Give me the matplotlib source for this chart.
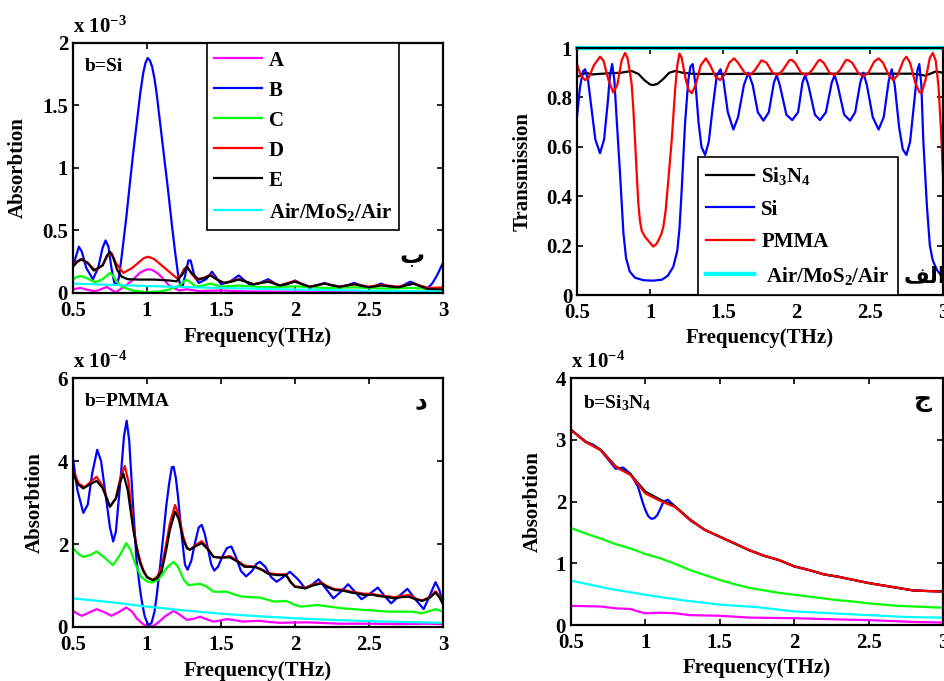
import matplotlib
matplotlib.use("Agg")
import matplotlib.pyplot as plt
from matplotlib.ticker import FormatStrFormatter

plt.rcParams['font.family'] = ['Liberation Serif', 'DejaVu Sans']
plt.rcParams['font.weight'] = 'bold'
plt.rcParams['mathtext.fontset'] = 'custom'
plt.rcParams['mathtext.rm'] = 'Liberation Serif:bold'
plt.rcParams['mathtext.it'] = 'Liberation Serif:bold'
plt.rcParams['mathtext.bf'] = 'Liberation Serif:bold'
plt.rcParams['mathtext.default'] = 'rm'

# ---------------- b = Si  (absorption, x 1e-3) ----------------
si_A_x = [0.5, 0.55, 0.6, 0.65, 0.7, 0.73, 0.76, 0.79, 0.82, 0.85, 0.9, 0.95, 0.99, 1.02, 1.05, 1.08, 1.12, 1.15,
          1.19, 1.22, 1.27, 1.35, 1.5, 1.7, 2.0, 2.5, 3.0]
si_A_y = [0.03, 0.04, 0.025, 0.013, 0.035, 0.048, 0.025, 0.005, 0.03, 0.053, 0.1, 0.16, 0.185, 0.19, 0.175, 0.15,
          0.1, 0.06, 0.035, 0.02, 0.03, 0.015, 0.02, 0.012, 0.01, 0.008, 0.008]

si_B_x = [0.5, 0.525, 0.54, 0.56, 0.59, 0.635, 0.67, 0.7, 0.72, 0.74, 0.76, 0.78, 0.795, 0.81, 0.83, 0.86, 0.885,
          0.91, 0.935, 0.955, 0.975, 0.99, 1.005, 1.02, 1.035, 1.05, 1.065, 1.08, 1.11, 1.14, 1.17, 1.19, 1.21,
          1.225, 1.24, 1.26, 1.28, 1.295, 1.32, 1.35, 1.4, 1.44, 1.47, 1.5, 1.56, 1.62, 1.66, 1.7, 1.76, 1.82,
          1.86, 1.9, 1.95, 2.0, 2.05, 2.1, 2.15, 2.2, 2.25, 2.3, 2.35, 2.4, 2.45, 2.49, 2.54, 2.58, 2.63, 2.68,
          2.73, 2.78, 2.82, 2.86, 2.9, 2.93, 2.96, 3.0]
si_B_y = [0.21, 0.31, 0.37, 0.33, 0.2, 0.11, 0.2, 0.36, 0.42, 0.37, 0.2, 0.08, 0.064, 0.12, 0.3, 0.6, 0.88, 1.15,
          1.4, 1.6, 1.76, 1.84, 1.88, 1.86, 1.81, 1.72, 1.6, 1.45, 1.15, 0.85, 0.53, 0.33, 0.15, 0.06, 0.05, 0.15,
          0.26, 0.26, 0.14, 0.08, 0.11, 0.17, 0.12, 0.07, 0.09, 0.14, 0.1, 0.06, 0.08, 0.11, 0.08, 0.05, 0.07, 0.1,
          0.07, 0.04, 0.06, 0.08, 0.06, 0.04, 0.06, 0.08, 0.06, 0.04, 0.055, 0.075, 0.055, 0.04, 0.06, 0.09, 0.07,
          0.05, 0.04, 0.08, 0.14, 0.24]

si_C_x = [0.5, 0.53, 0.56, 0.6, 0.65, 0.7, 0.75, 0.77, 0.79, 0.83, 0.9, 1.0, 1.1, 1.15, 1.22, 1.25, 1.27, 1.3, 1.33,
          1.38, 1.43, 1.5, 1.62, 1.8, 2.0, 2.2, 2.4, 2.6, 2.8, 3.0]
si_C_y = [0.11, 0.13, 0.135, 0.115, 0.085, 0.11, 0.16, 0.14, 0.1, 0.05, 0.02, 0.005, 0.015, 0.027, 0.06, 0.095, 0.105,
          0.08, 0.05, 0.06, 0.075, 0.05, 0.06, 0.045, 0.053, 0.04, 0.045, 0.035, 0.04, 0.027]

si_D_x = [0.5, 0.55, 0.6, 0.65, 0.7, 0.73, 0.76, 0.79, 0.84, 0.9, 0.95, 0.98, 1.01, 1.05, 1.1, 1.15, 1.2, 1.23, 1.25,
          1.27, 1.3, 1.33, 1.38, 1.43, 1.47, 1.52, 1.57, 1.62, 1.67, 1.72, 1.77, 1.82, 1.86, 1.9, 1.95, 2.0, 2.05,
          2.1, 2.2, 2.3, 2.4, 2.5, 2.58, 2.7, 2.8, 2.9, 3.0]
si_D_y = [0.23, 0.27, 0.24, 0.18, 0.22, 0.29, 0.32, 0.24, 0.16, 0.2, 0.25, 0.28, 0.29, 0.27, 0.22, 0.17, 0.12, 0.14,
          0.19, 0.21, 0.16, 0.11, 0.12, 0.145, 0.11, 0.08, 0.095, 0.11, 0.09, 0.07, 0.08, 0.095, 0.075, 0.06, 0.08,
          0.095, 0.07, 0.05, 0.075, 0.05, 0.07, 0.05, 0.065, 0.05, 0.075, 0.04, 0.045]

si_E_x = [0.5, 0.53, 0.56, 0.6, 0.64, 0.7, 0.73, 0.75, 0.77, 0.8, 0.83, 0.87, 0.95, 1.05, 1.15, 1.2, 1.24, 1.27, 1.3,
          1.35, 1.39, 1.43, 1.47, 1.52, 1.57, 1.62, 1.67, 1.72, 1.77, 1.82, 1.86, 1.9, 1.95, 2.0, 2.05, 2.1, 2.2,
          2.3, 2.4, 2.5, 2.58, 2.7, 2.8, 2.9, 3.0]
si_E_y = [0.21, 0.25, 0.27, 0.24, 0.18, 0.22, 0.3, 0.33, 0.29, 0.18, 0.13, 0.11, 0.107, 0.107, 0.1, 0.093, 0.15, 0.21,
          0.16, 0.107, 0.12, 0.14, 0.11, 0.08, 0.09, 0.107, 0.09, 0.07, 0.08, 0.09, 0.075, 0.06, 0.075, 0.09, 0.07,
          0.05, 0.075, 0.05, 0.07, 0.045, 0.06, 0.045, 0.075, 0.03, 0.027]

si_air_x = [0.5, 0.75, 1.0, 1.25, 1.5, 1.75, 2.0, 2.25, 2.5, 2.75, 3.0]
si_air_y = [0.075, 0.065, 0.055, 0.047, 0.04, 0.034, 0.028, 0.023, 0.018, 0.015, 0.012]

# ---------------- transmission ----------------
tr_sin_x = [0.5, 0.53, 0.56, 0.6, 0.7, 0.8, 0.873, 0.92, 0.96, 1.0, 1.02, 1.05, 1.09, 1.13, 1.17, 1.22, 1.3, 1.4,
            1.6, 1.8, 2.0, 2.2, 2.4, 2.6, 2.8, 2.88, 2.95, 3.0]
tr_sin_y = [0.884, 0.89, 0.9, 0.893, 0.897, 0.9, 0.907, 0.895, 0.87, 0.852, 0.85, 0.855, 0.875, 0.9, 0.907, 0.9,
            0.895, 0.895, 0.895, 0.896, 0.896, 0.896, 0.896, 0.896, 0.896, 0.888, 0.905, 0.9]

tr_si_x = [0.5, 0.52, 0.54, 0.555, 0.575, 0.6, 0.625, 0.657, 0.685, 0.71, 0.725, 0.74, 0.755, 0.77, 0.794, 0.817,
           0.835, 0.86, 0.896, 0.953, 1.02, 1.08, 1.12, 1.158, 1.185, 1.2, 1.215, 1.238, 1.26, 1.275, 1.29, 1.31,
           1.33, 1.35, 1.375, 1.4, 1.425, 1.455, 1.48, 1.5, 1.53, 1.568, 1.6, 1.64, 1.67, 1.7, 1.735, 1.773, 1.81,
           1.845, 1.864, 1.885, 1.93, 1.97, 2.01, 2.04, 2.058, 2.08, 2.125, 2.16, 2.2, 2.24, 2.26, 2.28, 2.325,
           2.365, 2.4, 2.435, 2.456, 2.48, 2.52, 2.56, 2.595, 2.63, 2.65, 2.67, 2.7, 2.725, 2.75, 2.775, 2.81,
           2.825, 2.838, 2.852, 2.865, 2.89, 2.91, 2.93, 2.96, 3.0]
tr_si_y = [0.72, 0.84, 0.905, 0.914, 0.87, 0.75, 0.63, 0.574, 0.63, 0.78, 0.89, 0.935, 0.87, 0.72, 0.49, 0.25,
           0.15, 0.095, 0.07, 0.06, 0.058, 0.062, 0.078, 0.115, 0.18, 0.27, 0.425, 0.695, 0.87, 0.925, 0.935, 0.85,
           0.7, 0.6, 0.567, 0.62, 0.75, 0.89, 0.914, 0.87, 0.74, 0.67, 0.72, 0.85, 0.9, 0.85, 0.74, 0.706, 0.74,
           0.86, 0.89, 0.85, 0.73, 0.708, 0.74, 0.86, 0.89, 0.85, 0.73, 0.708, 0.74, 0.86, 0.89, 0.85, 0.73,
           0.706, 0.74, 0.86, 0.9, 0.85, 0.72, 0.67, 0.72, 0.87, 0.914, 0.85, 0.68, 0.59, 0.567, 0.62, 0.82, 0.91,
           0.935, 0.85, 0.63, 0.36, 0.2, 0.14, 0.1, 0.07]

tr_pmma_x = [0.5, 0.525, 0.555, 0.58, 0.615, 0.657, 0.68, 0.715, 0.748, 0.775, 0.805, 0.828, 0.845, 0.862, 0.873,
             0.885, 0.896, 0.907, 0.919, 0.93, 0.942, 0.965, 0.987, 1.02, 1.04, 1.055, 1.075, 1.09, 1.105, 1.124,
             1.147, 1.17, 1.185, 1.2, 1.215, 1.24, 1.262, 1.284, 1.31, 1.345, 1.38, 1.41, 1.445, 1.477, 1.505, 1.54,
             1.573, 1.6, 1.645, 1.68, 1.715, 1.76, 1.795, 1.835, 1.87, 1.905, 1.95, 1.966, 1.99, 2.03, 2.07, 2.105,
             2.15, 2.16, 2.185, 2.225, 2.26, 2.295, 2.335, 2.35, 2.38, 2.42, 2.456, 2.49, 2.53, 2.56, 2.59, 2.63,
             2.66, 2.69, 2.73, 2.75, 2.775, 2.81, 2.84, 2.855, 2.88, 2.91, 2.93, 2.95, 2.97, 2.985, 3.0]
tr_pmma_y = [0.935, 0.89, 0.87, 0.88, 0.93, 0.965, 0.95, 0.87, 0.82, 0.85, 0.95, 0.98, 0.96, 0.9, 0.855, 0.75, 0.63,
             0.5, 0.37, 0.3, 0.26, 0.235, 0.22, 0.196, 0.205, 0.22, 0.245, 0.277, 0.34, 0.466, 0.628, 0.83, 0.93,
             0.978, 0.96, 0.88, 0.83, 0.817, 0.85, 0.93, 0.958, 0.93, 0.885, 0.87, 0.89, 0.94, 0.958, 0.94, 0.9,
             0.89, 0.91, 0.95, 0.94, 0.9, 0.89, 0.91, 0.95, 0.952, 0.94, 0.9, 0.89, 0.91, 0.95, 0.952, 0.94, 0.9,
             0.89, 0.91, 0.95, 0.952, 0.94, 0.9, 0.885, 0.9, 0.945, 0.958, 0.94, 0.89, 0.87, 0.89, 0.95, 0.965,
             0.94, 0.86, 0.82, 0.82, 0.87, 0.96, 0.98, 0.95, 0.84, 0.68, 0.48]

tr_air_x = [0.5, 3.0]
tr_air_y = [1.0, 1.0]

# ---------------- b = PMMA (absorption, x 1e-4) ----------------
pm_A_x = [0.5, 0.53, 0.56, 0.61, 0.66, 0.71, 0.76, 0.81, 0.86, 0.9, 0.93, 0.97, 1.0, 1.04, 1.07, 1.12, 1.18, 1.22,
          1.27, 1.32, 1.36, 1.4, 1.45, 1.5, 1.54, 1.6, 1.65, 1.7, 1.76, 1.83, 1.9, 2.0, 2.1, 2.3, 2.5, 2.7, 2.9, 3.0]
pm_A_y = [0.39, 0.32, 0.27, 0.35, 0.43, 0.36, 0.27, 0.36, 0.47, 0.37, 0.21, 0.08, 0.01, 0.02, 0.09, 0.25, 0.39, 0.3,
          0.17, 0.2, 0.25, 0.19, 0.13, 0.16, 0.19, 0.16, 0.13, 0.14, 0.15, 0.12, 0.1, 0.11, 0.11, 0.08, 0.08, 0.07,
          0.08, 0.07]

pm_B_x = [0.5, 0.53, 0.57, 0.6, 0.63, 0.664, 0.69, 0.72, 0.75, 0.772, 0.79, 0.82, 0.845, 0.863, 0.88, 0.895, 0.908,
          0.93, 0.95, 0.964, 0.985, 1.009, 1.03, 1.05, 1.065, 1.09, 1.11, 1.13, 1.15, 1.168, 1.18, 1.195, 1.21,
          1.235, 1.257, 1.275, 1.3, 1.324, 1.35, 1.37, 1.39, 1.414, 1.435, 1.455, 1.48, 1.51, 1.54, 1.57, 1.6,
          1.635, 1.67, 1.71, 1.74, 1.764, 1.8, 1.84, 1.876, 1.92, 1.966, 2.02, 2.07, 2.115, 2.16, 2.21, 2.26, 2.31,
          2.36, 2.405, 2.45, 2.505, 2.56, 2.605, 2.65, 2.705, 2.76, 2.815, 2.87, 2.91, 2.95, 2.975, 3.0]
pm_B_y = [4.06, 3.3, 2.75, 2.95, 3.7, 4.27, 4.0, 3.2, 2.4, 2.06, 2.3, 3.5, 4.6, 4.97, 4.5, 3.6, 2.82, 1.6, 1.0, 0.65,
          0.25, 0.05, 0.09, 0.35, 0.73, 1.5, 2.18, 2.9, 3.46, 3.85, 3.86, 3.6, 3.14, 2.2, 1.5, 1.38, 1.6, 2.02, 2.4,
          2.46, 2.25, 1.86, 1.5, 1.36, 1.45, 1.7, 1.9, 1.94, 1.7, 1.35, 1.22, 1.35, 1.52, 1.57, 1.45, 1.2, 1.09, 1.2,
          1.33, 1.15, 0.93, 1.02, 1.15, 0.92, 0.69, 0.85, 1.03, 0.85, 0.67, 0.8, 0.95, 0.75, 0.57, 0.75, 0.92,
          0.66, 0.43, 0.75, 1.08, 0.9, 0.57]

pm_C_x = [0.5, 0.54, 0.57, 0.62, 0.66, 0.71, 0.77, 0.82, 0.86, 0.89, 0.92, 0.96, 1.0, 1.03, 1.07, 1.1, 1.14, 1.18,
          1.21, 1.25, 1.28, 1.36, 1.4, 1.45, 1.5, 1.54, 1.6, 1.65, 1.76, 1.865, 1.94, 2.0, 2.04, 2.15, 2.32, 2.47,
          2.63, 2.79, 2.86, 2.95, 3.0]
pm_C_y = [1.9, 1.75, 1.69, 1.74, 1.82, 1.68, 1.49, 1.75, 2.02, 1.85, 1.53, 1.21, 1.1, 1.07, 1.12, 1.25, 1.45, 1.57,
          1.45, 1.13, 1.01, 1.04, 0.98, 0.85, 0.85, 0.85, 0.77, 0.73, 0.71, 0.61, 0.63, 0.53, 0.49, 0.53, 0.45,
          0.41, 0.37, 0.37, 0.33, 0.43, 0.37]

pm_D_x = [0.5, 0.54, 0.58, 0.62, 0.66, 0.7, 0.75, 0.79, 0.82, 0.85, 0.875, 0.908, 0.93, 0.953, 0.975, 1.0, 1.04,
          1.07, 1.1, 1.13, 1.155, 1.19, 1.215, 1.245, 1.27, 1.29, 1.33, 1.37, 1.41, 1.45, 1.5, 1.56, 1.61, 1.66,
          1.73, 1.78, 1.82, 1.88, 1.94, 1.97, 2.0, 2.07, 2.12, 2.18, 2.22, 2.27, 2.32, 2.38, 2.42, 2.47, 2.52,
          2.56, 2.62, 2.67, 2.72, 2.77, 2.82, 2.86, 2.91, 2.95, 2.975, 3.0]
pm_D_y = [3.78, 3.45, 3.37, 3.5, 3.62, 3.4, 2.9, 3.1, 3.6, 3.88, 3.5, 2.42, 1.95, 1.61, 1.38, 1.21, 1.13, 1.22, 1.45,
          2.0, 2.5, 2.94, 2.7, 2.18, 1.92, 1.86, 1.98, 2.07, 1.9, 1.69, 1.67, 1.71, 1.6, 1.48, 1.45, 1.38, 1.3,
          1.27, 1.27, 1.1, 0.98, 0.95, 1.02, 1.07, 0.98, 0.91, 0.9, 0.85, 0.83, 0.8, 0.8, 0.77, 0.74, 0.72, 0.75,
          0.77, 0.68, 0.64, 0.72, 0.86, 0.75, 0.57]

pm_E_x = [0.5, 0.53, 0.57, 0.62, 0.66, 0.7, 0.75, 0.79, 0.82, 0.84, 0.87, 0.908, 0.93, 0.953, 0.975, 1.0, 1.04, 1.07,
          1.1, 1.13, 1.155, 1.19, 1.215, 1.245, 1.27, 1.29, 1.33, 1.37, 1.41, 1.45, 1.5, 1.56, 1.61, 1.66, 1.73,
          1.78, 1.82, 1.88, 1.94, 1.97, 2.0, 2.07, 2.12, 2.18, 2.22, 2.27, 2.32, 2.38, 2.42, 2.47, 2.52, 2.56, 2.62,
          2.67, 2.72, 2.77, 2.82, 2.86, 2.91, 2.95, 2.975, 3.0]
pm_E_y = [3.74, 3.45, 3.34, 3.45, 3.52, 3.35, 2.9, 3.1, 3.5, 3.7, 3.3, 2.34, 1.9, 1.55, 1.35, 1.2, 1.13, 1.18, 1.35,
          1.85, 2.34, 2.78, 2.6, 2.1, 1.9, 1.86, 1.95, 2.02, 1.88, 1.69, 1.67, 1.68, 1.58, 1.45, 1.45, 1.37, 1.28,
          1.25, 1.25, 1.08, 0.97, 0.93, 1.0, 1.05, 0.96, 0.89, 0.88, 0.83, 0.81, 0.77, 0.78, 0.75, 0.72, 0.69,
          0.72, 0.73, 0.66, 0.63, 0.7, 0.83, 0.72, 0.55]

pm_air_x = [0.5, 0.75, 1.0, 1.25, 1.5, 1.75, 2.0, 2.25, 2.5, 2.75, 3.0]
pm_air_y = [0.69, 0.6, 0.49, 0.4, 0.32, 0.26, 0.21, 0.17, 0.14, 0.12, 0.1]

# ---------------- b = Si3N4 (absorption, x 1e-4) ----------------
sn_x = [0.5, 0.6, 0.7, 0.8, 0.9, 1.0, 1.1, 1.2, 1.3, 1.4, 1.5, 1.6, 1.7, 1.8, 1.9, 2.0, 2.1, 2.2, 2.3, 2.4, 2.5, 2.6,
        2.7, 2.8, 2.9, 3.0]
sn_A_x = [0.5, 0.7, 0.8, 0.9, 0.95, 1.0, 1.1, 1.2, 1.3, 1.5, 1.7, 2.0, 2.3, 2.5, 2.8, 3.0]
sn_A_y = [0.31, 0.30, 0.27, 0.26, 0.22, 0.19, 0.20, 0.19, 0.16, 0.15, 0.12, 0.11, 0.09, 0.08, 0.05, 0.04]
sn_B_x = [0.5, 0.6, 0.65, 0.7, 0.8, 0.85, 0.9, 0.95, 0.98, 1.0, 1.02, 1.04, 1.06, 1.08, 1.1, 1.12, 1.15, 1.2, 1.3,
          1.4, 1.5, 1.6, 1.7, 1.8, 1.9, 2.0, 2.1, 2.2, 2.3, 2.4, 2.5, 2.6, 2.7, 2.8, 2.9, 3.0]
sn_B_y = [3.16, 2.96, 2.92, 2.83, 2.53, 2.55, 2.45, 2.24, 2.0, 1.86, 1.76, 1.72, 1.73, 1.78, 1.88, 1.99, 2.03, 1.92,
          1.70, 1.54, 1.43, 1.32, 1.21, 1.12, 1.05, 0.95, 0.89, 0.82, 0.78, 0.73, 0.68, 0.64, 0.60, 0.56, 0.55, 0.55]
sn_C_y = [1.57, 1.48, 1.40, 1.31, 1.24, 1.15, 1.08, 0.99, 0.89, 0.81, 0.73, 0.66, 0.60, 0.56, 0.52, 0.49, 0.46, 0.43,
          0.40, 0.38, 0.35, 0.33, 0.31, 0.30, 0.29, 0.28]
sn_D_y = [3.16, 2.96, 2.83, 2.56, 2.43, 2.13, 2.01, 1.91, 1.70, 1.54, 1.43, 1.32, 1.21, 1.12, 1.05, 0.95, 0.89, 0.82,
          0.78, 0.73, 0.68, 0.64, 0.60, 0.56, 0.55, 0.54]
sn_E_y = [3.16, 2.97, 2.84, 2.57, 2.44, 2.16, 2.03, 1.92, 1.71, 1.54, 1.43, 1.32, 1.21, 1.12, 1.05, 0.95, 0.89, 0.82,
          0.78, 0.73, 0.68, 0.64, 0.60, 0.56, 0.55, 0.54]
sn_air_x = [0.5, 0.75, 1.0, 1.25, 1.5, 1.75, 2.0, 2.25, 2.5, 2.75, 3.0]
sn_air_y = [0.72, 0.59, 0.49, 0.40, 0.33, 0.29, 0.22, 0.19, 0.16, 0.13, 0.12]

freq_ticks = [0.5, 1, 1.5, 2, 2.5, 3]
abs_labels = ['A', 'B', 'C', 'D', 'E', r'Air/MoS$_2$/Air']
tr_labels = [r'Si$_3$N$_4$', 'Si', 'PMMA', r' Air/MoS$_2$/Air']

MAG = (1, 0, 1)
BLU = (0, 0, 1)
GRN = (0, 1, 0)
RED = (1, 0, 0)
BLK = (0, 0, 0)
CYN = (0, 1, 1)
LW = 1.6
FS = 15
AR = ['Liberation Serif', 'DejaVu Sans']


def style(ax, ylim, yticks, ylabel, ylab_x):
    ax.set_xlim(0.5, 3)
    ax.set_ylim(*ylim)
    ax.set_xticks(freq_ticks)
    ax.set_yticks(yticks)
    ax.xaxis.set_major_formatter(FormatStrFormatter('%g'))
    ax.yaxis.set_major_formatter(FormatStrFormatter('%g'))
    ax.tick_params(direction='in', top=True, right=True, length=4, width=1.2, labelsize=FS)
    ax.tick_params(axis='x', pad=6)
    for sp in ax.spines.values():
        sp.set_linewidth(1.6)
    ax.set_xlabel('Frequency(THz)', fontsize=FS, fontweight='bold')
    ax.xaxis.set_label_coords(0.5, -0.135)
    ax.set_ylabel(ylabel, fontsize=FS, fontweight='bold')
    ax.yaxis.set_label_coords(ylab_x, 0.5)


fig = plt.figure(figsize=(9.45, 6.81), dpi=100)

# top-left: b=Si
ax1 = fig.add_axes([0.0772, 0.5698, 0.3915, 0.3671])
ax1.plot(si_A_x, si_A_y, color=MAG, lw=LW, label=abs_labels[0])
ax1.plot(si_B_x, si_B_y, color=BLU, lw=LW, label=abs_labels[1])
ax1.plot(si_C_x, si_C_y, color=GRN, lw=LW, label=abs_labels[2])
ax1.plot(si_D_x, si_D_y, color=RED, lw=LW, label=abs_labels[3])
ax1.plot(si_E_x, si_E_y, color=BLK, lw=LW, label=abs_labels[4])
ax1.plot(si_air_x, si_air_y, color=CYN, lw=LW, label=abs_labels[5])
style(ax1, (0, 2), [0, 0.5, 1, 1.5, 2], 'Absorbtion', -0.122)
ax1.legend(loc='upper left', bbox_to_anchor=(0.361, 0.998), fontsize=FS, frameon=True, fancybox=False,
           edgecolor='black', framealpha=1, handlelength=2.3, handletextpad=0.35, labelspacing=0.48,
           borderpad=0.35, borderaxespad=0).get_frame().set_linewidth(1.2)
ax1.text(0.032, 0.905, 'b=Si', transform=ax1.transAxes, fontsize=14, va='center', ha='left')
ax1.text(0.0, 1.02, r'x 10$^{-3}$', transform=ax1.transAxes, fontsize=FS, va='bottom', ha='left')
ax1.text(0.915, 0.145, 'ب', transform=ax1.transAxes, fontsize=18, va='center', ha='center', family=AR)

# top-right: transmission
ax2 = fig.add_axes([0.6106, 0.5668, 0.3873, 0.3627])
ax2.plot(tr_sin_x, tr_sin_y, color=BLK, lw=LW, label=tr_labels[0])
ax2.plot(tr_si_x, tr_si_y, color=BLU, lw=LW, label=tr_labels[1])
ax2.plot(tr_pmma_x, tr_pmma_y, color=RED, lw=LW, label=tr_labels[2])
ax2.plot(tr_air_x, tr_air_y, color=CYN, lw=3.2, label=tr_labels[3], clip_on=False)
style(ax2, (0, 1), [0, 0.2, 0.4, 0.6, 0.8, 1], 'Transmission', -0.12)
ax2.legend(loc='lower left', bbox_to_anchor=(0.33, 0.0), fontsize=FS, frameon=True, fancybox=False,
           edgecolor='black', framealpha=1, handlelength=2.3, handletextpad=0.35, labelspacing=0.6,
           borderpad=0.4, borderaxespad=0).get_frame().set_linewidth(1.2)
# "alef" in presentation forms, laid out left to right
ax2.text(0.95, 0.07, '\ufed2\ufedf\ufe8d', transform=ax2.transAxes, fontsize=16, va='center', ha='center',
         family=AR)

# bottom-left: b=PMMA
ax3 = fig.add_axes([0.0772, 0.0793, 0.3915, 0.3656])
ax3.plot(pm_A_x, pm_A_y, color=MAG, lw=LW)
ax3.plot(pm_B_x, pm_B_y, color=BLU, lw=LW)
ax3.plot(pm_C_x, pm_C_y, color=GRN, lw=LW)
ax3.plot(pm_D_x, pm_D_y, color=RED, lw=LW)
ax3.plot(pm_E_x, pm_E_y, color=BLK, lw=LW)
ax3.plot(pm_air_x, pm_air_y, color=CYN, lw=LW)
style(ax3, (0, 6), [0, 2, 4, 6], 'Absorbtion', -0.076)
ax3.text(0.032, 0.905, 'b=PMMA', transform=ax3.transAxes, fontsize=14, va='center', ha='left')
ax3.text(0.0, 1.02, r'x 10$^{-4}$', transform=ax3.transAxes, fontsize=FS, va='bottom', ha='left')
ax3.text(0.94, 0.9, 'د', transform=ax3.transAxes, fontsize=18, va='center', ha='center', family=AR)

# bottom-right: b=Si3N4
ax4 = fig.add_axes([0.6042, 0.0822, 0.3937, 0.3627])
ax4.plot(sn_A_x, sn_A_y, color=MAG, lw=LW)
ax4.plot(sn_B_x, sn_B_y, color=BLU, lw=LW)
ax4.plot(sn_x, sn_C_y, color=GRN, lw=LW)
ax4.plot(sn_x, sn_E_y, color=BLK, lw=LW)
ax4.plot(sn_x, sn_D_y, color=RED, lw=LW)
ax4.plot(sn_air_x, sn_air_y, color=CYN, lw=LW)
style(ax4, (0, 4), [0, 1, 2, 3, 4], 'Absorbtion', -0.075)
ax4.text(0.033, 0.9, r'b=Si$_3$N$_4$', transform=ax4.transAxes, fontsize=14, va='center', ha='left')
ax4.text(0.0, 1.02, r'x 10$^{-4}$', transform=ax4.transAxes, fontsize=FS, va='bottom', ha='left')
ax4.text(0.943, 0.91, 'ج', transform=ax4.transAxes, fontsize=18, va='center', ha='center', family=AR)

fig.savefig('out.png', dpi=100)
